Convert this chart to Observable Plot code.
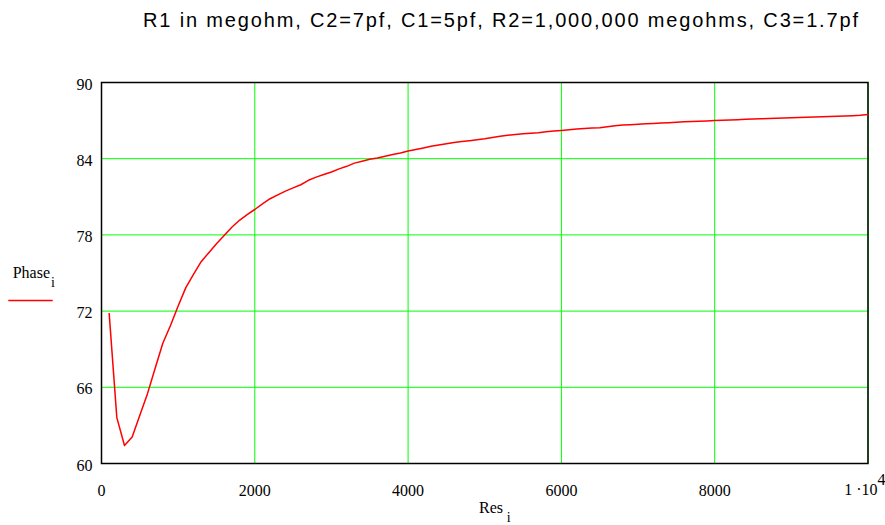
<!DOCTYPE html>
<html><head><meta charset="utf-8">
<script src="https://cdn.jsdelivr.net/npm/d3@7"></script>
<script src="https://cdn.jsdelivr.net/npm/@observablehq/plot@0.6"></script>
<style>body{margin:0;background:#fff} #chart{position:relative;width:885px;height:525px}</style>
</head><body><div id="chart"></div>
<script>
const res = [100,200,300,400,500,600,700,800,900,1000,
  1100,1200,1300,1400,1500,1600,1700,1800,1900,2000,
  2100,2200,2300,2400,2500,2600,2700,2800,2900,3000,
  3100,3200,3300,3400,3500,3600,3700,3800,3900,4000,
  4100,4200,4300,4400,4500,4600,4700,4800,4900,5000,
  5100,5200,5300,5400,5500,5600,5700,5800,5900,6000,
  6100,6200,6300,6400,6500,6600,6700,6800,6900,7000,
  7100,7200,7300,7400,7500,7600,7700,7800,7900,8000,
  8100,8200,8300,8400,8500,8600,8700,8800,8900,9000,
  9100,9200,9300,9400,9500,9600,9700,9800,9900,10000];
const phase = [71.82,63.61,61.42,62.08,63.8,65.5,67.5,69.47,70.87,72.4,
  73.85,74.9,75.89,76.6,77.3,77.95,78.6,79.15,79.6,80.0,
  80.45,80.85,81.15,81.45,81.7,81.95,82.3,82.55,82.75,82.95,
  83.2,83.4,83.65,83.8,83.95,84.05,84.2,84.33,84.45,84.6,
  84.72,84.85,84.98,85.08,85.18,85.28,85.36,85.42,85.49,85.57,
  85.67,85.76,85.84,85.91,85.96,86.0,86.05,86.12,86.18,86.23,
  86.28,86.33,86.38,86.41,86.44,86.52,86.6,86.65,86.68,86.72,
  86.75,86.78,86.81,86.84,86.87,86.9,86.93,86.95,86.97,87.0,
  87.02,87.05,87.07,87.1,87.12,87.14,87.16,87.18,87.2,87.23,
  87.25,87.27,87.29,87.31,87.33,87.35,87.37,87.39,87.42,87.48];
const xTicks = [0,2000,4000,6000,8000,10000];
const yTicks = [60,66,72,78,84,90];
const title = "R1 in megohm, C2=7pf, C1=5pf, R2=1,000,000 megohms, C3=1.7pf";
const yLabel = "Phase", xLabel = "Res", sub = "i";

const data = res.map((r,i)=>({res:r, phase:phase[i]}));
const serif = "'Liberation Serif','Times New Roman',serif";
const sans = "'Liberation Sans',Arial,sans-serif";

const chart = Plot.plot({
  width:885, height:525, marginLeft:101, marginRight:17.5, marginTop:82, marginBottom:62,
  style:{fontFamily:serif, fontSize:"16px", background:"white", color:"black", overflow:"visible"},
  x:{domain:[0,10000]}, y:{domain:[60,90]},
  marks:[
    Plot.gridX(xTicks,{stroke:"#00ff00", strokeOpacity:1, strokeWidth:1}),
    Plot.gridY(yTicks,{stroke:"#00ff00", strokeOpacity:1, strokeWidth:1}),
    Plot.frame({stroke:"black", strokeWidth:1.5}),
    Plot.line(data,{x:"res", y:"phase", stroke:"#ff0000", strokeWidth:1.5}),
    Plot.axisX(xTicks.filter(d=>d<10000),{tickSize:0, tickPadding:21, label:null, fontSize:16, tickFormat:d=>String(d)}),
    Plot.axisY(yTicks,{tickSize:0, tickPadding:9, dy:2, label:null, fontSize:16}),
    Plot.text([10000],{x:d=>d, frameAnchor:"bottom", text:()=>"1 ·10", textAnchor:"end", lineAnchor:"middle", dx:9.5, dy:26.5, fontSize:16}),
    Plot.text([10000],{x:d=>d, frameAnchor:"bottom", text:()=>"4", textAnchor:"start", lineAnchor:"middle", dx:9.5, dy:16.5, fontSize:16})
  ]
});
document.getElementById("chart").appendChild(chart);

const svg = d3.select(chart);
const add = (x,y,font,size,txt) => svg.append("text").attr("x",x).attr("y",y).attr("text-anchor","start")
  .attr("font-family",font).attr("font-size",size).attr("fill","black").text(txt);
add(143,27,sans,20,title).attr("textLength",715).attr("lengthAdjust","spacing");
add(12.7,278,serif,16,yLabel);
add(51,286.7,serif,14,sub);
svg.append("line").attr("x1",8.3).attr("x2",52.7).attr("y1",300.5).attr("y2",300.5).attr("stroke","#ff0000").attr("stroke-width",1.5);
add(479,513,serif,16,xLabel);
add(506.7,521.7,serif,14,sub);
</script></body></html>
